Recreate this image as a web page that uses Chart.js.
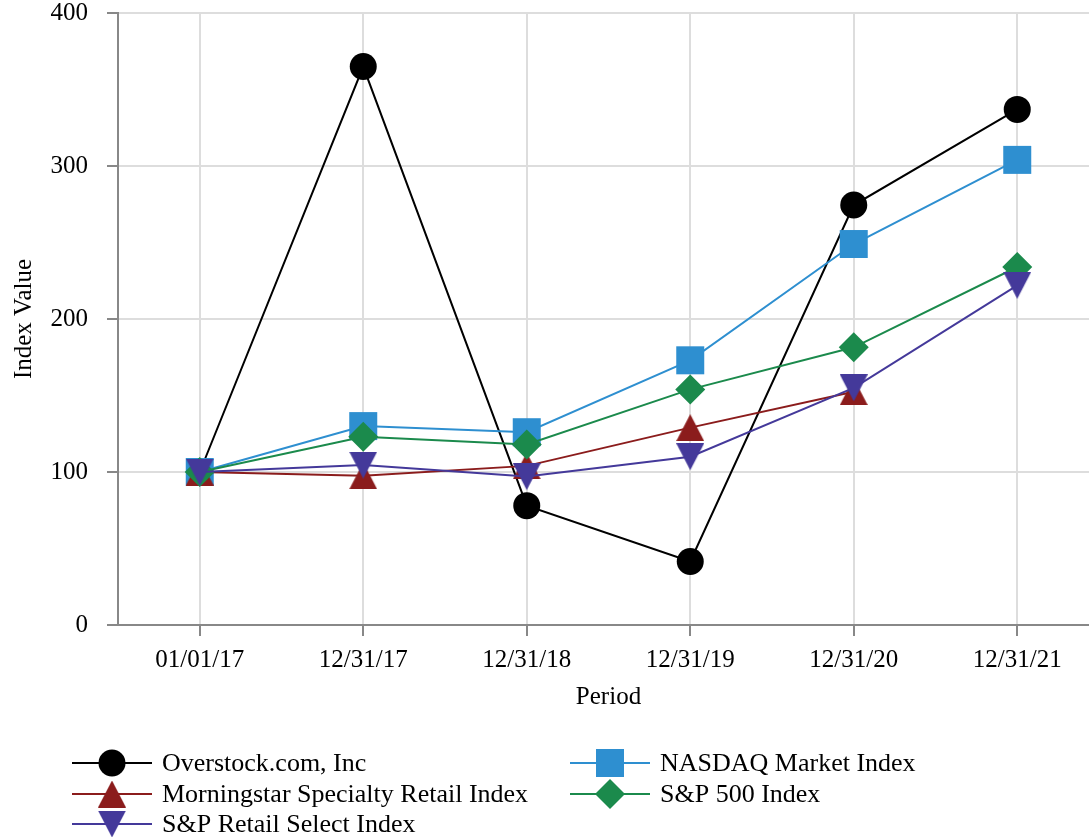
<!DOCTYPE html>
<html>
<head>
<meta charset="utf-8">
<script src="https://cdn.jsdelivr.net/npm/chart.js@4/dist/chart.umd.min.js"></script>
<style>
  html, body { margin: 0; padding: 0; background: #fff; overflow: hidden; }
  #wrap { width: 1100px; height: 837px; }
</style>
</head>
<body>
<div id="wrap"><canvas id="chart" width="1100" height="837"></canvas></div>
<script>
const periodos = ['01/01/17', '12/31/17', '12/31/18', '12/31/19', '12/31/20', '12/31/21'];
const overstock = [100, 365, 78, 41.5, 274.5, 337];
const nasdaq = [100, 130, 126, 173, 249, 304];
const morningstar = [100, 97.5, 104, 129, 152.5, null];
const sp500 = [100, 123, 118, 154, 181.5, 234];
const spRetail = [100, 104.5, 97, 110, 155, 222];
const yTicks = [0, 100, 200, 300, 400];

const FONT = '"Liberation Serif", "Times New Roman", serif';

// triangulos centrados por su caja, como en la referencia
function triangulo(color, abajo) {
    const w = 28, h = 27;
    const c = document.createElement('canvas');
    c.width = w; c.height = h;
    const g = c.getContext('2d');
    g.fillStyle = color;
    g.beginPath();
    if (abajo) {
        g.moveTo(0, 0); g.lineTo(w, 0); g.lineTo(w / 2, h);
    } else {
        g.moveTo(w / 2, 0); g.lineTo(w, h); g.lineTo(0, h);
    }
    g.closePath();
    g.fill();
    return c;
}

const series = [
    { label: 'Overstock.com, Inc', data: overstock, color: '#000000', style: 'circle', radius: 13.5, order: 5 },
    { label: 'NASDAQ Market Index', data: nasdaq, color: '#2e8fd0', style: 'rect', radius: 19.8, order: 4 },
    { label: 'Morningstar Specialty Retail Index', data: morningstar, color: '#8b1c1c', style: triangulo('#8b1c1c', false), radius: 14, order: 3 },
    { label: 'S&P 500 Index', data: sp500, color: '#1b8a4c', style: 'rectRot', radius: 15, order: 2 },
    { label: 'S&P Retail Select Index', data: spRetail, color: '#44399a', style: triangulo('#44399a', true), radius: 14, order: 1 }
];

// posiciones de la leyenda (dos columnas)
const leyenda = [
    { i: 0, x: 72, y: 763 },
    { i: 2, x: 72, y: 794 },
    { i: 4, x: 72, y: 824 },
    { i: 1, x: 570, y: 763 },
    { i: 3, x: 570, y: 794 }
];

const legendPlugin = {
    id: 'leyendaDosColumnas',
    afterDraw(chart) {
        const ctx = chart.ctx;
        ctx.save();
        leyenda.forEach(item => {
            const s = series[item.i];
            ctx.strokeStyle = s.color;
            ctx.lineWidth = 2;
            ctx.beginPath();
            ctx.moveTo(item.x, item.y);
            ctx.lineTo(item.x + 80, item.y);
            ctx.stroke();
            ctx.fillStyle = s.color;
            Chart.helpers.drawPoint(ctx, { pointStyle: s.style, radius: s.radius, rotation: 0, borderWidth: 0 }, item.x + 40, item.y);
            ctx.fillStyle = '#000';
            ctx.font = '26px ' + FONT;
            ctx.textAlign = 'left';
            ctx.textBaseline = 'middle';
            ctx.fillText(s.label, item.x + 90, item.y + 1);
        });
        ctx.restore();
    }
};

new Chart(document.getElementById('chart'), {
    type: 'line',
    data: {
        labels: periodos,
        datasets: series.map(s => ({
            label: s.label,
            data: s.data,
            borderColor: s.color,
            backgroundColor: s.color,
            borderWidth: 2,
            pointStyle: s.style,
            pointRadius: s.radius,
            pointHoverRadius: s.radius,
            pointBorderWidth: 0,
            tension: 0,
            clip: false,
            order: s.order
        }))
    },
    options: {
        responsive: false,
        animation: false,
        layout: { autoPadding: false, padding: { top: 13, right: 1, bottom: 122, left: 0 } },
        plugins: {
            legend: { display: false },
            tooltip: { enabled: false }
        },
        scales: {
            x: {
                offset: true,
                grid: { color: '#dddddd', lineWidth: 2, tickColor: '#888888', tickLength: 11, offset: false },
                border: { color: '#888888', width: 2 },
                ticks: { color: '#000', font: { family: FONT, size: 25, lineHeight: 1 }, padding: 12, maxRotation: 0 },
                title: { display: true, text: 'Period', color: '#000', font: { family: FONT, size: 25 }, padding: { top: 0, bottom: 3 } },
                afterFit: scale => { scale.height = 90; }
            },
            y: {
                min: 0,
                max: 400,
                afterBuildTicks: scale => { scale.ticks = yTicks.map(v => ({ value: v })); },
                grid: { color: '#dddddd', lineWidth: 2, tickColor: '#888888', tickLength: 11 },
                border: { color: '#888888', width: 2 },
                ticks: { color: '#000', font: { family: FONT, size: 25, lineHeight: 1 }, padding: 19 },
                title: { display: true, text: 'Index Value', color: '#000', font: { family: FONT, size: 25 }, padding: { top: 9, bottom: 0 } },
                afterFit: scale => {
                    scale.width = 118;
                    scale.paddingTop = 0;
                    scale.paddingBottom = 0;
                }
            }
        }
    },
    plugins: [legendPlugin]
});
</script>
</body>
</html>
